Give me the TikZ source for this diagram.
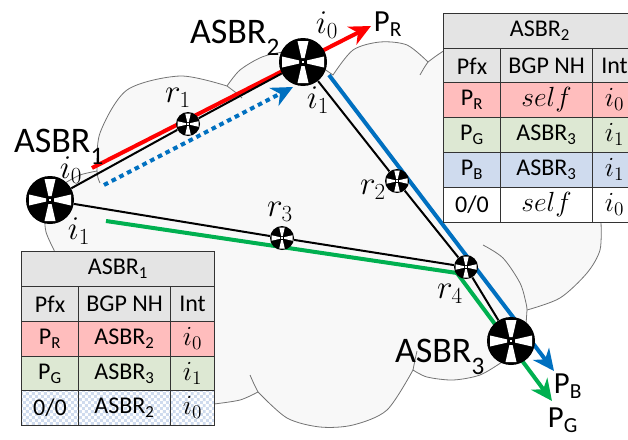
\documentclass[tikz,border=0pt]{standalone}
\usepackage{amsmath,amssymb}
\usepackage{fontspec}
\setmainfont{Carlito}
\usepackage{tikz}
\usetikzlibrary{arrows.meta,patterns}

\definecolor{cloudfill}{HTML}{F8F8F8}
\definecolor{hdrfill}{HTML}{E4E4E4}
\definecolor{redfill}{HTML}{FFBDBD}
\definecolor{greenfill}{HTML}{DDE8D3}
\definecolor{bluefill}{HTML}{CFDBEE}
\definecolor{redline}{HTML}{FF0000}
\definecolor{greenline}{HTML}{00B050}
\definecolor{blueline}{HTML}{0070C0}

\pgfdeclarepatternformonly{finecheck}{\pgfqpoint{0pt}{0pt}}{\pgfqpoint{4.4pt}{4.4pt}}{\pgfqpoint{4.4pt}{4.4pt}}{
    \pgfpathrectangle{\pgfqpoint{0pt}{0pt}}{\pgfqpoint{2.2pt}{2.2pt}}
    \pgfpathrectangle{\pgfqpoint{2.2pt}{2.2pt}}{\pgfqpoint{2.2pt}{2.2pt}}
    \pgfusepath{fill}
}

\tikzset{
    routernode/.style={circle, fill=black, inner sep=0pt},
    cellnode/.style={draw=black!80, line width=0.8pt, inner sep=0pt, anchor=north west, minimum height=34.6*0.75pt, font=\fontsize{18}{18}\selectfont},
    labelnode/.style={inner sep=0pt, font=\fontsize{27}{27}\selectfont},
    mathnode/.style={inner sep=0pt, font=\fontsize{25}{25}\selectfont},
    pfxnode/.style={inner sep=0pt, font=\fontsize{23}{23}\selectfont},
    blackline/.style={draw=black, line width=1.5pt},
    cloudline/.style={draw=black!55, line width=0.6pt},
    colorline/.style={line width=3pt, -{Stealth[length=16pt,width=15pt,inset=5pt]}}
}

% a subscript set lower than the usual one
\newcommand{\dn}[1]{\raisebox{-0.2em}{\textsubscript{#1}}}
% a router: name, position, size
\newcommand{\router}[3]{
    \node[routernode, minimum size=#3*0.75pt] (#1) at (#2) {};
    \foreach \a in {0,90,180,270}
        \fill[white, shift={(#2)}, rotate=\a, scale=#3/48] (4,-1.6) -- (21,-5.5) -- (21,5.5) -- (4,1.6) -- cycle;
    \fill[white, shift={(#2)}, scale=#3/48] (-1.3,-1.3) rectangle (1.3,1.3);
}
% one row of a table: name, x, y, cell style, three texts
\newcommand{\tablerow}[7]{
    \node[cellnode, #4, minimum width=57*0.75pt] (#1a) at (#2,#3) {#5};
    \node[cellnode, #4, minimum width=92*0.75pt] (#1b) at (#2+57,#3) {#6};
    \node[cellnode, #4, minimum width=44*0.75pt] (#1c) at (#2+149,#3) {\fontsize{20}{20}\selectfont #7};
}

\begin{document}
\begin{tikzpicture}[x=0.75pt,y=-0.75pt]
    \clip (0,0) rectangle (628,439);
    \useasboundingbox (0,0) rectangle (628,439);
    % cloud
    \path[fill=cloudfill, cloudline]
        plot[smooth] coordinates {(65,183) (80,175) (97,171)}
        -- plot[smooth] coordinates {(97,171) (100,133) (127,90) (180,76) (227,86)}
        -- plot[smooth] coordinates {(227,86) (240,70) (262,57) (285,52) (304,55)}
        -- plot[smooth] coordinates {(333,75) (353,50) (380,42) (407,45) (428,62)}
        -- plot[smooth] coordinates {(428,62) (436,56) (445,50)}
        -- (500,50) -- (601,222)
        -- plot[smooth] coordinates {(601,222) (600,250) (587,273) (560,298) (527,310)}
        -- (525,340) -- (502,362)
        -- plot[smooth] coordinates {(502,362) (480,375) (453,380) (427,377) (413,370)}
        -- plot[smooth] coordinates {(413,370) (387,410) (353,425) (320,427) (287,418) (258,392)}
        -- plot[smooth] coordinates {(258,392) (240,400) (214,404)}
        -- (100,404) -- (54,250)
        -- plot[smooth] coordinates {(54,250) (46,232) (45,215) (50,200)}
        -- cycle;
    \draw[cloudline] plot[smooth] coordinates {(97,171) (98,178) (100,183)};
    \draw[cloudline] plot[smooth] coordinates {(227,86) (235,92) (242,98)};
    \draw[cloudline] plot[smooth] coordinates {(428,62) (424,68) (420,75)};
    \draw[cloudline] plot[smooth] coordinates {(483,245) (503,258) (520,283) (526,303) (527,310)};
    \draw[cloudline] plot[smooth] coordinates {(413,370) (415,360) (417,351)};
    \draw[cloudline] plot[smooth] coordinates {(258,392) (254,384) (250,375)};

    % coloured paths
    \coordinate (redstart) at (92,168);
    \coordinate (redend) at (371,26);
    \coordinate (dotstart) at (104,185);
    \coordinate (dotend) at (293,87);
    \coordinate (bluestart) at (329,75);
    \coordinate (blueend) at (554,371);
    \coordinate (greenstart) at (106,221);
    \coordinate (greenmid) at (457,273);
    \coordinate (greenend) at (552,401);
    \draw[colorline, redline] (redstart) -- (redend);
    \draw[colorline, blueline] (bluestart) -- (blueend);
    \draw[colorline, greenline] (greenstart) -- (greenmid) -- (greenend);
    \draw[colorline, blueline, dash pattern=on 3.5pt off 3pt] (dotstart) -- (dotend);

    % routers
    \router{asbra}{50,200}{48}
    \router{asbrb}{303,62}{48}
    \router{asbrc}{511,341}{48}
    \router{ra}{188,124}{24}
    \router{rb}{397,181}{24}
    \router{rc}{282,238}{24}
    \router{rd}{466,267}{24}

    % links
    \draw[blackline] (asbra) -- (ra) -- (asbrb);
    \draw[blackline] (asbrb) -- (rb) -- (rd) -- (asbrc);
    \draw[blackline] (asbra) -- (rc) -- (rd);

    % labels
    \node[labelnode] (asbralabel) at (59,147) {ASBR\dn{1}};
    \node[labelnode] (asbrblabel) at (235,38) {ASBR\dn{2}};
    \node[labelnode] (asbrclabel) at (440,357) {ASBR\dn{3}};
    \node[mathnode] (ralabel) at (178,98) {$r_1$};
    \node[mathnode] (rblabel) at (373,190) {$r_2$};
    \node[mathnode] (rclabel) at (280,212) {$r_3$};
    \node[mathnode] (rdlabel) at (450,294) {$r_4$};
    \node[pfxnode] (iaa) at (71,170) {$i_0$};
    \node[pfxnode] (iab) at (79,231) {$i_1$};
    \node[pfxnode] (iba) at (327,25) {$i_0$};
    \node[pfxnode] (ibb) at (318,100) {$i_1$};
    \node[pfxnode] (pr) at (388,24) {P\textsubscript{R}};
    \node[pfxnode] (pb) at (568,386) {P\textsubscript{B}};
    \node[pfxnode] (pg) at (563,420) {P\textsubscript{G}};

    % table of ASBR 1
    \node[cellnode, fill=hdrfill, minimum width=193*0.75pt] (tahdr) at (21,251) {ASBR\textsubscript{1}};
    \tablerow{tapfx}{21}{286}{fill=hdrfill}{Pfx}{BGP NH}{\normalfont\fontsize{18}{18}\selectfont Int}
    \tablerow{tared}{21}{321}{fill=redfill}{P\textsubscript{R}}{ASBR\textsubscript{2}}{$i_0$}
    \tablerow{tagrn}{21}{356}{fill=greenfill}{P\textsubscript{G}}{ASBR\textsubscript{3}}{$i_1$}
    \tablerow{tadef}{21}{390}{preaction={fill=white}, pattern=finecheck, pattern color=bluefill}{0/0}{ASBR\textsubscript{2}}{$i_0$}

    % table of ASBR 2
    \node[cellnode, fill=hdrfill, minimum width=193*0.75pt] (tbhdr) at (443,13) {ASBR\textsubscript{2}};
    \tablerow{tbpfx}{443}{48}{fill=hdrfill}{Pfx}{BGP NH}{\normalfont\fontsize{18}{18}\selectfont Int}
    \tablerow{tbred}{443}{82}{fill=redfill}{P\textsubscript{R}}{\fontsize{20}{20}\selectfont $self$}{$i_0$}
    \tablerow{tbgrn}{443}{117}{fill=greenfill}{P\textsubscript{G}}{ASBR\textsubscript{3}}{$i_1$}
    \tablerow{tbblu}{443}{152}{fill=bluefill}{P\textsubscript{B}}{ASBR\textsubscript{3}}{$i_1$}
    \tablerow{tbdef}{443}{187}{fill=white}{0/0}{\fontsize{20}{20}\selectfont $self$}{$i_0$}
\end{tikzpicture}
\end{document}
